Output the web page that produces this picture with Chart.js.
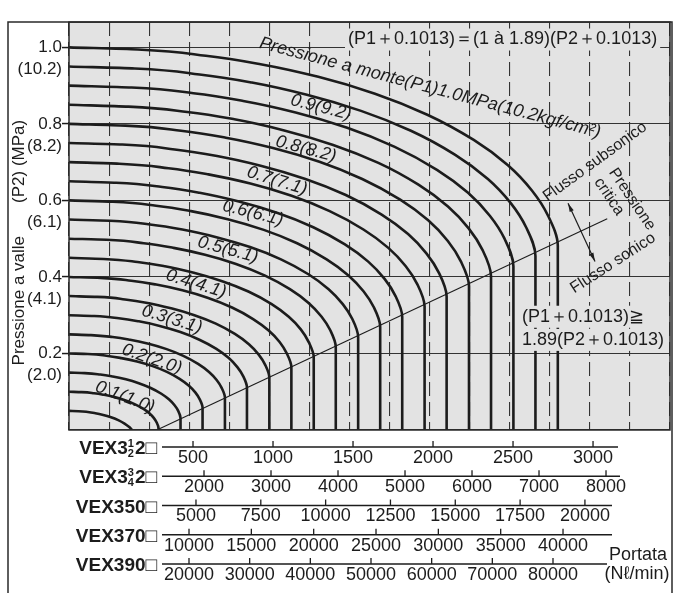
<!DOCTYPE html>
<html lang="it">
<head>
<meta charset="UTF-8">
<title>Caratteristiche di portata VEX3</title>
<script src="https://cdn.jsdelivr.net/npm/chart.js@4.4.1/dist/chart.umd.min.js"></script>
<style>
  html, body { margin: 0; padding: 0; background: #fff; }
</style>
</head>
<body>
<canvas id="flowChart" width="680" height="593"></canvas>
<script>
// curve di portata: [portata Nl/min (scala VEX3 3/4 2), pressione a valle P2 MPa]
const p1_005 = [[0,0.050],[142,0.0492],[281,0.047],[394,0.0439],[513,0.0394],[629,0.0334],[737,0.0258],[832,0.0167],[902,0.0076],[946,0]];
const p1_010 = [[0,0.100],[189,0.099],[375,0.096],[525,0.0919],[683,0.0859],[839,0.0779],[982,0.0678],[1110,0.0557],[1203,0.0436],[1269,0.0316],[1313,0.0195],[1340,0.0052],[1340,0]];
const p1_015 = [[0,0.150],[235,0.1487],[468,0.145],[655,0.1399],[852,0.1324],[1045,0.1224],[1224,0.1098],[1383,0.0947],[1500,0.0796],[1581,0.0646],[1637,0.0495],[1670,0.0316],[1670,0]];
const p1_020 = [[0,0.200],[282,0.1985],[560,0.194],[784,0.1879],[1020,0.1789],[1252,0.1669],[1466,0.1518],[1656,0.1337],[1796,0.1156],[1894,0.0976],[1960,0.0795],[2000,0.0581],[2000,0]];
const p1_025 = [[0,0.250],[329,0.248],[654,0.243],[915,0.236],[1191,0.2254],[1462,0.2114],[1712,0.1938],[1933,0.1727],[2097,0.1516],[2211,0.1306],[2288,0.1095],[2335,0.0845],[2335,0]];
const p1_030 = [[0,0.300],[376,0.298],[746,0.292],[1045,0.284],[1359,0.272],[1668,0.256],[1953,0.236],[2207,0.212],[2393,0.188],[2524,0.1636],[2612,0.1395],[2665,0.111],[2665,0]];
const p1_035 = [[0,0.350],[423,0.348],[840,0.341],[1176,0.332],[1530,0.318],[1878,0.300],[2199,0.278],[2484,0.251],[2694,0.224],[2841,0.197],[2940,0.1695],[3000,0.137],[3000,0]];
const p1_040 = [[0,0.400],[470,0.3975],[932,0.390],[1305,0.380],[1698,0.365],[2085,0.345],[2441,0.320],[2757,0.290],[2990,0.260],[3154,0.230],[3263,0.1995],[3330,0.164],[3330,0]];
const p1_045 = [[0,0.450],[517,0.447],[1026,0.439],[1437,0.428],[1869,0.411],[2294,0.389],[2686,0.362],[3035,0.329],[3291,0.296],[3471,0.263],[3592,0.229],[3665,0.190],[3665,0]];
const p1_050 = [[0,0.500],[563,0.497],[1119,0.488],[1566,0.476],[2037,0.458],[2501,0.434],[2928,0.404],[3308,0.368],[3588,0.332],[3783,0.296],[3915,0.260],[3995,0.217],[3995,0]];
const p1_055 = [[0,0.550],[611,0.547],[1212,0.537],[1697,0.524],[2208,0.504],[2711,0.478],[3174,0.446],[3585,0.407],[3888,0.368],[4100,0.329],[4243,0.290],[4330,0.243],[4330,0]];
const p1_060 = [[0,0.600],[657,0.5965],[1305,0.586],[1827,0.572],[2377,0.551],[2917,0.523],[3416,0.488],[3858,0.446],[4185,0.404],[4413,0.362],[4567,0.320],[4660,0.270],[4660,0]];
const p1_065 = [[0,0.650],[704,0.646],[1397,0.635],[1956,0.620],[2545,0.597],[3124,0.567],[3658,0.530],[4132,0.485],[4481,0.440],[4726,0.395],[4890,0.350],[4990,0.296],[4990,0]];
const p1_070 = [[0,0.700],[751,0.696],[1491,0.684],[2087,0.668],[2716,0.644],[3333,0.612],[3903,0.572],[4409,0.524],[4782,0.476],[5043,0.428],[5219,0.380],[5325,0.323],[5325,0]];
const p1_075 = [[0,0.750],[797,0.746],[1583,0.733],[2217,0.716],[2884,0.690],[3540,0.656],[4145,0.614],[4682,0.563],[5078,0.512],[5355,0.461],[5542,0.410],[5655,0.349],[5655,0]];
const p1_080 = [[0,0.800],[845,0.7955],[1677,0.782],[2348,0.764],[3055,0.737],[3750,0.701],[4391,0.656],[4960,0.602],[5379,0.548],[5673,0.494],[5870,0.440],[5990,0.376],[5990,0]];
const p1_085 = [[0,0.850],[891,0.845],[1770,0.831],[2477,0.812],[3223,0.783],[3956,0.745],[4633,0.698],[5233,0.641],[5675,0.584],[5985,0.527],[6194,0.470],[6320,0.402],[6320,0]];
const p1_090 = [[0,0.900],[938,0.895],[1863,0.880],[2609,0.860],[3394,0.830],[4166,0.790],[4878,0.740],[5510,0.680],[5976,0.620],[6302,0.560],[6522,0.500],[6655,0.428],[6655,0]];
const p1_095 = [[0,0.950],[985,0.9447],[1956,0.929],[2738,0.908],[3562,0.876],[4373,0.834],[5120,0.782],[5784,0.719],[6273,0.656],[6615,0.593],[6845,0.530],[6985,0.455],[6985,0]];
const p1_100 = [[0,1.000],[1032,0.9945],[2050,0.978],[2869,0.956],[3733,0.923],[4582,0.879],[5366,0.824],[6061,0.758],[6573,0.692],[6932,0.626],[7174,0.560],[7320,0.481],[7320,0]];

// linea della pressione critica
const criticalLine = [[1315,0],[8060,0.552]];

// asse Y
const yGrid = [0,0.1,0.2,0.3,0.4,0.5,0.6,0.7,0.8,0.9,1.0];
const yTickValues = [0.2,0.4,0.6,0.8,1.0];
const yTickMpa = ['0.2','0.4','0.6','0.8','1.0'];
const yTickKgf = ['(2.0)','(4.1)','(6.1)','(8.2)','(10.2)'];

// griglia verticale (portata)
const xGrid = [0,600,1200,1800,2400,3000,3600,4200,4800,5400,6000,6600,7200,7800,8400,9000];

// scale di portata per modello
const valveModels = ['VEX3½2□','VEX3¾2□','VEX350□','VEX370□','VEX390□'];
const ticksVex312 = [500,1000,1500,2000,2500,3000];
const ticksVex342 = [2000,3000,4000,5000,6000,7000,8000];
const ticksVex350 = [5000,7500,10000,12500,15000,17500,20000];
const ticksVex370 = [10000,15000,20000,25000,30000,35000,40000];
const ticksVex390 = [20000,30000,40000,50000,60000,70000,80000];

// etichette
const curveLabels = ['0.9(9.2)','0.8(8.2)','0.7(7.1)','0.6(6.1)','0.5(5.1)','0.4(4.1)','0.3(3.1)','0.2(2.0)','0.1(1.0)'];
const mainLabel = 'Pressione a monte(P1)1.0MPa(10.2kgf/cm²)';
const formulaTop = '(P1＋0.1013)＝(1 à 1.89)(P2＋0.1013)';
const formulaSonic = ['(P1＋0.1013)≧', '1.89(P2＋0.1013)'];

// ---- posizioni e stili ----
const FONT = "'Liberation Sans', Arial, Helvetica, sans-serif";
const PLOT_BG = '#e3e3e3';
const INK = '#1c1c1c';
const curveLabelPos = [[3774,0.843,14],[3549,0.734,15],[3115,0.651,17],[2755,0.567,14],[2381,0.471,15],[1902,0.382,17],[1542,0.289,17],[1243,0.185,19],[839,0.086,21]];
const axisSetup = [
  {id: 'v1', ticks: ticksVex312, min: -275, max: 3481, tl: 17, lineEnd: 549},
  {id: 'v2', ticks: ticksVex342, min: -15, max: 8955, tl: 7.65, lineEnd: 551},
  {id: 'v3', ticks: ticksVex350, min: 103, max: 23281, tl: 7.65, lineEnd: 543},
  {id: 'v4', ticks: ticksVex370, min: 374, max: 48581, tl: 7.65, lineEnd: 543},
  {id: 'v5', ticks: ticksVex390, min: 220, max: 99286, tl: 7.65, lineEnd: 538}
];

Chart.defaults.font.family = FONT;
Chart.defaults.color = INK;

const curves = [p1_005,p1_010,p1_015,p1_020,p1_025,p1_030,p1_035,p1_040,p1_045,p1_050,
                p1_055,p1_060,p1_065,p1_070,p1_075,p1_080,p1_085,p1_090,p1_095,p1_100];

const datasets = curves.map(pts => ({
  data: pts.map(([q, p]) => ({x: q, y: p})),
  borderColor: INK,
  borderWidth: 2.6,
  pointRadius: 0,
  fill: false,
  cubicInterpolationMode: 'monotone',
  xAxisID: 'x',
  yAxisID: 'y'
}));
datasets.push({
  data: criticalLine.map(([q, p]) => ({x: q, y: p})),
  borderColor: INK,
  borderWidth: 1.1,
  pointRadius: 0,
  fill: false,
  xAxisID: 'x',
  yAxisID: 'y'
});

const scales = {
  x: {
    type: 'linear', position: 'bottom', weight: 0, min: 0, max: 9000,
    afterBuildTicks: s => { s.ticks = xGrid.map(v => ({value: v})); },
    afterFit: s => { s.height = 0; },
    ticks: {display: false},
    grid: {color: '#333', lineWidth: 1.1, drawTicks: false},
    border: {display: false, dash: [14, 6]}
  },
  y: {
    type: 'linear', position: 'left', min: 0, max: 1.066,
    afterBuildTicks: s => { s.ticks = yGrid.map(v => ({value: v})); },
    afterFit: s => { s.width = 69; },
    ticks: {
      font: {size: 17, lineHeight: 1.3},
      color: INK,
      padding: 0,
      labelOffset: 11,
      callback: v => {
        const i = yTickValues.findIndex(t => Math.abs(t - v) < 1e-6);
        return i < 0 ? '' : [yTickMpa[i], yTickKgf[i]];
      }
    },
    grid: {
      color: '#333', lineWidth: 1.1, tickLength: 7, tickWidth: 1.5,
      tickColor: c => (c.tick && yTickValues.some(t => Math.abs(t - c.tick.value) < 1e-6)) ? INK : 'transparent'
    },
    border: {display: false},
    title: {
      display: true,
      text: 'Pressione a valle' + '\u00a0'.repeat(7) + '(P2) (MPa)' + '\u00a0'.repeat(7),
      font: {size: 17},
      color: INK,
      padding: {top: 9, bottom: 0}
    }
  }
};
axisSetup.forEach((a, i) => {
  scales[a.id] = {
    type: 'linear', axis: 'x', position: 'bottom', weight: i + 1, min: a.min, max: a.max,
    afterBuildTicks: s => { s.ticks = a.ticks.map(v => ({value: v})); },
    ticks: {font: {size: 18}, color: INK, padding: 0, autoSkip: false, maxRotation: 0, callback: v => String(v)},
    grid: {display: true, drawOnChartArea: false, drawTicks: true, tickLength: a.tl, color: 'transparent'},
    border: {display: false}
  };
});

function rotText(ctx, text, x, y, deg, font) {
  ctx.save();
  ctx.translate(x, y);
  ctx.rotate(deg * Math.PI / 180);
  ctx.font = font;
  ctx.textAlign = 'center';
  ctx.textBaseline = 'middle';
  ctx.fillStyle = INK;
  ctx.fillText(text, 0, 0);
  ctx.restore();
}

function maskedText(ctx, text, x, y, font) {
  ctx.save();
  ctx.font = font;
  ctx.textAlign = 'left';
  ctx.textBaseline = 'middle';
  const w = ctx.measureText(text).width;
  ctx.fillStyle = PLOT_BG;
  ctx.fillRect(x - 3, y - 11, w + 6, 22);
  ctx.fillStyle = INK;
  ctx.fillText(text, x, y);
  ctx.restore();
}

function drawModel(ctx, label, xRight, yMid) {
  const big = 'bold 19px ' + FONT, small = 'bold 11px ' + FONT;
  ctx.save();
  ctx.fillStyle = INK;
  ctx.textBaseline = 'middle';
  ctx.textAlign = 'left';
  const m = label.match(/^(.*?)([½¾])(.*)$/);
  if (!m) {
    ctx.font = big;
    ctx.fillText(label, xRight - ctx.measureText(label).width, yMid);
    ctx.restore();
    return;
  }
  const fr = m[2] === '½' ? ['1', '2'] : ['3', '4'];
  ctx.font = big;
  const wHead = ctx.measureText(m[1]).width, wTail = ctx.measureText(m[3]).width;
  ctx.font = small;
  const wFrac = Math.max(ctx.measureText(fr[0]).width, ctx.measureText(fr[1]).width) + 1;
  let x = xRight - wTail - wFrac - wHead;
  ctx.font = big;
  ctx.fillText(m[1], x, yMid);
  x += wHead;
  ctx.font = small;
  ctx.fillText(fr[0], x, yMid - 5);
  ctx.fillText(fr[1], x, yMid + 5);
  x += wFrac;
  ctx.font = big;
  ctx.fillText(m[3], x, yMid);
  ctx.restore();
}

function arrowHead(ctx, x, y, ang) {
  ctx.beginPath();
  ctx.moveTo(x, y);
  ctx.lineTo(x - 9 * Math.cos(ang - 0.25), y - 9 * Math.sin(ang - 0.25));
  ctx.lineTo(x - 9 * Math.cos(ang + 0.25), y - 9 * Math.sin(ang + 0.25));
  ctx.closePath();
  ctx.fill();
}

const decorPlugin = {
  id: 'decor',
  beforeDraw(chart) {
    const {ctx, chartArea: ca} = chart;
    ctx.save();
    ctx.fillStyle = PLOT_BG;
    ctx.fillRect(ca.left, ca.top, ca.right - ca.left, ca.bottom - ca.top);
    ctx.restore();
  },
  afterDatasetsDraw(chart) {
    const {ctx} = chart;
    const sx = chart.scales.x, sy = chart.scales.y;
    const X = v => sx.getPixelForValue(v), Y = v => sy.getPixelForValue(v);
    const italic = 'italic 18px ' + FONT;

    curveLabels.forEach((t, i) => {
      const [q, p, a] = curveLabelPos[i];
      rotText(ctx, t, X(q), Y(p), a, italic);
    });
    rotText(ctx, mainLabel, X(5406), Y(0.894), 14.8, italic);

    maskedText(ctx, formulaTop, X(4178), Y(1.0205), '18px ' + FONT);
    maskedText(ctx, formulaSonic[0], X(6784), Y(0.296), '18px ' + FONT);
    maskedText(ctx, formulaSonic[1], X(6784), Y(0.2355), '18px ' + FONT);

    const f16 = '16px ' + FONT;
    rotText(ctx, 'Flusso subsonico', X(7877), Y(0.701), -36, f16);
    rotText(ctx, 'Pressione', X(8431), Y(0.603), 56, f16);
    rotText(ctx, 'critica', X(8087), Y(0.610), 56, f16);
    rotText(ctx, 'Flusso sonico', X(8146), Y(0.436), -33, f16);

    // freccia doppia
    const x1 = X(7473), y1 = Y(0.5926), x2 = X(7877), y2 = Y(0.4406);
    const ang = Math.atan2(y2 - y1, x2 - x1);
    ctx.save();
    ctx.strokeStyle = INK;
    ctx.fillStyle = INK;
    ctx.lineWidth = 1.2;
    ctx.beginPath();
    ctx.moveTo(x1, y1);
    ctx.lineTo(x2, y2);
    ctx.stroke();
    arrowHead(ctx, x2, y2, ang);
    arrowHead(ctx, x1, y1, ang + Math.PI);
    ctx.restore();
  },
  afterDraw(chart) {
    const {ctx, chartArea: ca} = chart;
    ctx.save();
    ctx.strokeStyle = '#2a2a2a';
    ctx.lineWidth = 1.5;
    // cornice esterna
    ctx.beginPath();
    ctx.moveTo(8, chart.height);
    ctx.lineTo(8, ca.top);
    ctx.lineTo(ca.right + 2, ca.top);
    ctx.lineTo(ca.right + 2, chart.height);
    ctx.stroke();
    // bordo area grafico
    ctx.strokeRect(ca.left, ca.top, ca.right - ca.left, ca.bottom - ca.top);

    // scale dei modelli
    ctx.lineWidth = 1.3;
    ctx.strokeStyle = INK;
    axisSetup.forEach((a, i) => {
      const s = chart.scales[a.id];
      const yLine = s.top + a.tl;
      ctx.beginPath();
      ctx.moveTo(ca.left + 93, yLine);
      ctx.lineTo(ca.left + a.lineEnd, yLine);
      s.ticks.forEach(t => {
        const px = s.getPixelForValue(t.value);
        ctx.moveTo(px, yLine - 6);
        ctx.lineTo(px, yLine);
      });
      ctx.stroke();
      drawModel(ctx, valveModels[i], ca.left + 88, yLine + 2);
    });

    ctx.fillStyle = INK;
    ctx.font = '18px ' + FONT;
    ctx.textAlign = 'center';
    ctx.textBaseline = 'middle';
    const last = chart.scales.v5;
    ctx.fillText('Portata', ca.right - 32, last.top - 1);
    ctx.fillText('(Nℓ/min)', ca.right - 33, last.top + 18);
    ctx.restore();
  }
};

new Chart(document.getElementById('flowChart'), {
  type: 'line',
  data: {datasets},
  options: {
    responsive: false,
    animation: false,
    indexAxis: 'y',
    layout: {autoPadding: false, padding: {left: 0, right: 10, top: 9, bottom: 7.4}},
    plugins: {legend: {display: false}, tooltip: {enabled: false}},
    scales
  },
  plugins: [decorPlugin]
});
</script>
</body>
</html>
